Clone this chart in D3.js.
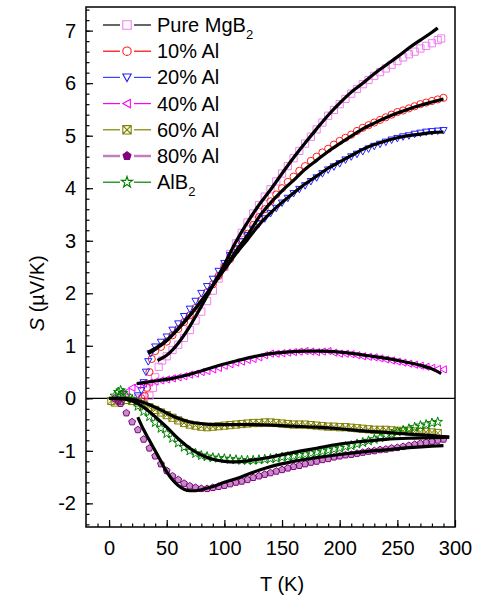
<!DOCTYPE html>
<html>
<head>
<meta charset="utf-8">
<script src="https://cdn.jsdelivr.net/npm/d3@7"></script>
<style>
  body { margin: 0; background: #fff; }
  text { font-family: "Liberation Sans", Arial, sans-serif; }
</style>
</head>
<body>
<svg id="chart" width="482" height="599"></svg>
<script>
const pureData = [[25,0],[30,0.02],[35,0.05],[38,0.2],[40,0.4],[43,0.6],[46,0.72],[50,0.8],[55,0.92],[60,1.02],[65,1.15],[70,1.3],[75,1.48],[80,1.65],[85,1.85],[90,2.05],[95,2.28],[100,2.5],[105,2.75],[110,2.95],[115,3.15],[120,3.35],[125,3.52],[130,3.68],[135,3.84],[140,3.98],[145,4.13],[150,4.28],[155,4.42],[160,4.57],[165,4.71],[170,4.85],[175,4.98],[180,5.12],[185,5.25],[190,5.38],[195,5.49],[200,5.6],[205,5.7],[210,5.8],[215,5.89],[220,5.98],[225,6.06],[230,6.14],[235,6.21],[240,6.28],[245,6.35],[250,6.42],[255,6.49],[260,6.55],[265,6.6],[270,6.66],[275,6.71],[280,6.76],[285,6.82],[288,6.85]];
const al10Data = [[28,0],[31,0.05],[33,0.2],[35,0.5],[37,0.75],[40,0.9],[45,0.98],[50,1.08],[55,1.2],[60,1.32],[65,1.45],[70,1.58],[75,1.72],[80,1.87],[85,2.02],[90,2.17],[95,2.33],[100,2.5],[105,2.65],[110,2.82],[115,2.98],[120,3.13],[125,3.3],[130,3.45],[135,3.6],[140,3.75],[145,3.88],[150,4.0],[155,4.12],[160,4.22],[165,4.33],[170,4.42],[175,4.52],[180,4.6],[185,4.68],[190,4.75],[195,4.83],[200,4.9],[205,4.96],[210,5.02],[215,5.09],[220,5.15],[225,5.2],[230,5.25],[235,5.3],[240,5.35],[245,5.4],[250,5.45],[255,5.48],[260,5.52],[265,5.56],[270,5.6],[275,5.63],[280,5.66],[285,5.69],[290,5.72]];
const al20Data = [[25,0.05],[28,0.15],[30,0.3],[32,0.5],[34,0.7],[36,0.85],[40,0.98],[45,1.07],[50,1.17],[55,1.3],[60,1.42],[65,1.56],[70,1.7],[75,1.85],[80,2.0],[85,2.13],[90,2.27],[95,2.42],[100,2.57],[105,2.72],[110,2.85],[115,2.98],[120,3.1],[125,3.21],[130,3.32],[135,3.42],[140,3.52],[145,3.62],[150,3.72],[155,3.81],[160,3.9],[165,3.98],[170,4.05],[175,4.13],[180,4.2],[185,4.28],[190,4.35],[195,4.41],[200,4.47],[205,4.54],[210,4.6],[215,4.65],[220,4.7],[225,4.75],[230,4.8],[235,4.84],[240,4.88],[245,4.92],[250,4.95],[255,4.98],[260,5.0],[265,5.03],[270,5.05],[275,5.07],[280,5.08],[285,5.09],[290,5.1]];
const al40Data = [[10,0.05],[15,0.12],[20,0.2],[25,0.25],[30,0.28],[35,0.3],[40,0.32],[45,0.34],[50,0.36],[55,0.38],[60,0.4],[65,0.42],[70,0.45],[75,0.47],[80,0.5],[85,0.52],[90,0.55],[95,0.58],[100,0.62],[105,0.65],[110,0.68],[115,0.7],[120,0.73],[125,0.75],[130,0.78],[135,0.82],[140,0.85],[145,0.85],[150,0.86],[155,0.87],[160,0.88],[165,0.89],[170,0.9],[175,0.89],[180,0.88],[185,0.89],[190,0.9],[195,0.87],[200,0.85],[205,0.85],[210,0.84],[215,0.82],[220,0.8],[225,0.79],[230,0.78],[235,0.76],[240,0.74],[245,0.72],[250,0.7],[255,0.68],[260,0.66],[265,0.64],[270,0.62],[275,0.6],[280,0.58],[285,0.56],[290,0.55]];
const al60Data = [[2,-0.05],[5,-0.08],[10,-0.05],[15,-0.03],[20,-0.05],[25,-0.08],[30,-0.12],[35,-0.17],[40,-0.22],[45,-0.27],[50,-0.32],[55,-0.37],[60,-0.42],[65,-0.47],[70,-0.5],[75,-0.52],[80,-0.54],[85,-0.55],[90,-0.54],[95,-0.53],[100,-0.52],[105,-0.51],[110,-0.5],[115,-0.49],[120,-0.48],[125,-0.47],[130,-0.47],[135,-0.46],[140,-0.46],[145,-0.47],[150,-0.48],[155,-0.49],[160,-0.5],[165,-0.5],[170,-0.5],[175,-0.51],[180,-0.52],[185,-0.53],[190,-0.54],[195,-0.54],[200,-0.55],[205,-0.55],[210,-0.56],[215,-0.57],[220,-0.58],[225,-0.59],[230,-0.6],[235,-0.6],[240,-0.6],[245,-0.61],[250,-0.62],[255,-0.62],[260,-0.63],[265,-0.63],[270,-0.64],[275,-0.64],[280,-0.65],[285,-0.66]];
const al80Data = [[5,0],[8,-0.05],[10,-0.1],[15,-0.28],[20,-0.45],[25,-0.6],[30,-0.78],[35,-0.95],[40,-1.1],[45,-1.25],[50,-1.38],[55,-1.48],[60,-1.55],[65,-1.62],[70,-1.67],[75,-1.7],[80,-1.72],[85,-1.72],[90,-1.7],[95,-1.68],[100,-1.66],[105,-1.63],[110,-1.6],[115,-1.58],[120,-1.55],[125,-1.51],[130,-1.48],[135,-1.45],[140,-1.42],[145,-1.39],[150,-1.36],[155,-1.33],[160,-1.3],[165,-1.28],[170,-1.25],[175,-1.22],[180,-1.2],[185,-1.17],[190,-1.15],[195,-1.12],[200,-1.1],[205,-1.08],[210,-1.07],[215,-1.05],[220,-1.03],[225,-1.01],[230,-1.0],[235,-0.98],[240,-0.97],[245,-0.95],[250,-0.94],[255,-0.92],[260,-0.9],[265,-0.88],[270,-0.86],[275,-0.84],[280,-0.82],[285,-0.8],[290,-0.78]];
const alb2Data = [[5,0.05],[8,0.12],[10,0.15],[12,0.1],[15,0.05],[20,-0.02],[25,-0.15],[30,-0.25],[35,-0.35],[40,-0.46],[45,-0.57],[50,-0.67],[55,-0.76],[60,-0.85],[65,-0.93],[70,-1.0],[75,-1.05],[80,-1.09],[85,-1.11],[90,-1.13],[95,-1.14],[100,-1.15],[105,-1.16],[110,-1.17],[115,-1.18],[120,-1.18],[125,-1.18],[130,-1.17],[135,-1.16],[140,-1.15],[145,-1.14],[150,-1.12],[155,-1.11],[160,-1.1],[165,-1.08],[170,-1.07],[175,-1.05],[180,-1.03],[185,-1.01],[190,-0.99],[195,-0.97],[200,-0.95],[205,-0.92],[210,-0.9],[215,-0.87],[220,-0.84],[225,-0.81],[230,-0.78],[235,-0.75],[240,-0.71],[245,-0.68],[250,-0.64],[255,-0.61],[260,-0.58],[265,-0.55],[270,-0.52],[275,-0.5],[280,-0.47],[285,-0.45]];

// fitted curves (black lines)
const pureFit = [[42,0.72],[50,0.82],[60,1.05],[70,1.37],[80,1.75],[90,2.15],[100,2.55],[110,2.98],[120,3.35],[130,3.68],[140,3.97],[150,4.28],[160,4.58],[170,4.86],[180,5.13],[190,5.39],[200,5.62],[210,5.83],[220,6.0],[230,6.18],[240,6.34],[250,6.5],[260,6.67],[270,6.82],[280,6.97],[285,7.05]];
const al10Fit = [[34,0.88],[40,0.95],[50,1.1],[60,1.32],[70,1.57],[80,1.85],[90,2.15],[100,2.47],[110,2.8],[120,3.1],[130,3.45],[140,3.72],[150,3.95],[160,4.15],[170,4.36],[180,4.53],[190,4.7],[200,4.85],[210,4.99],[220,5.13],[230,5.24],[240,5.34],[250,5.43],[260,5.51],[270,5.58],[280,5.64],[290,5.7]];
const al20Fit = [[34,0.85],[40,0.93],[50,1.1],[60,1.33],[70,1.58],[80,1.86],[90,2.15],[100,2.45],[110,2.75],[120,3.02],[130,3.3],[140,3.53],[150,3.73],[160,3.91],[170,4.08],[180,4.23],[190,4.38],[200,4.5],[210,4.62],[220,4.74],[230,4.83],[240,4.9],[250,4.96],[260,5.0],[270,5.03],[280,5.06],[290,5.07]];
const al40Fit = [[24,0.28],[40,0.33],[55,0.38],[67,0.44],[80,0.52],[96,0.63],[110,0.71],[125,0.79],[140,0.85],[154,0.88],[170,0.9],[183,0.9],[200,0.88],[212,0.85],[225,0.81],[241,0.76],[255,0.7],[270,0.63],[280,0.56],[288,0.47]];
const al60Fit = [[0,0],[10,0],[20,-0.02],[30,-0.08],[40,-0.17],[50,-0.28],[60,-0.38],[70,-0.45],[80,-0.48],[90,-0.5],[100,-0.5],[120,-0.5],[140,-0.51],[160,-0.53],[180,-0.55],[200,-0.58],[220,-0.62],[240,-0.65],[260,-0.68],[280,-0.71],[295,-0.74]];
const al80Fit = [[25,-0.36],[30,-0.6],[35,-0.8],[40,-1.0],[45,-1.2],[50,-1.4],[55,-1.55],[60,-1.66],[65,-1.73],[70,-1.76],[75,-1.76],[80,-1.74],[90,-1.68],[100,-1.6],[110,-1.53],[120,-1.45],[130,-1.37],[140,-1.3],[160,-1.2],[180,-1.13],[200,-1.07],[220,-1.02],[240,-0.98],[260,-0.94],[280,-0.91],[290,-0.9]];
const alb2Fit = [[5,0],[15,-0.02],[20,-0.05],[30,-0.17],[40,-0.35],[50,-0.55],[60,-0.77],[70,-0.95],[80,-1.08],[90,-1.16],[100,-1.2],[110,-1.21],[120,-1.19],[130,-1.16],[140,-1.12],[160,-1.03],[180,-0.95],[200,-0.87],[220,-0.82],[240,-0.78],[260,-0.76],[280,-0.75],[295,-0.74]];

const seriesNames = ["Pure MgB", "10% Al", "20% Al", "40% Al", "60% Al", "80% Al", "AlB"];
const seriesSub = ["2", "", "", "", "", "", "2"];
const xTicks = [0, 50, 100, 150, 200, 250, 300];
const yTicks = [-2, -1, 0, 1, 2, 3, 4, 5, 6, 7];

const series = [
  {data: pureData, fit: pureFit, color: "#f080f0", line: "#000", shape: "square"},
  {data: al10Data, fit: al10Fit, color: "#ff2020", line: "#ff0000", shape: "circle"},
  {data: al20Data, fit: al20Fit, color: "#2020ff", line: "#4040ff", shape: "tridown"},
  {data: al40Data, fit: al40Fit, color: "#ff00ff", line: "#ff00ff", shape: "trileft"},
  {data: al60Data, fit: al60Fit, color: "#808000", line: "#808000", shape: "xsquare"},
  {data: al80Data, fit: al80Fit, color: "#800080", line: "#c080c0", shape: "pentagon"},
  {data: alb2Data, fit: alb2Fit, color: "#008000", line: "#008000", shape: "star"}
];

const svg = d3.select("#chart");
const x = d3.scaleLinear().domain([-20, 300]).range([86, 455]);
const y = d3.scaleLinear().domain([-2.45, 7.45]).range([527, 7]);

function markerPath(shape, r) {
  if (shape === "square") return `M${-r},${-r}h${2*r}v${2*r}h${-2*r}Z`;
  if (shape === "circle") return `M${r},0A${r},${r} 0 1,1 ${-r},0A${r},${r} 0 1,1 ${r},0Z`;
  if (shape === "tridown") return `M${-r},${-r*0.8}L${r},${-r*0.8}L0,${r}Z`;
  if (shape === "trileft") return `M${-r},0L${r*0.8},${-r}L${r*0.8},${r}Z`;
  if (shape === "xsquare") return `M${-r},${-r}h${2*r}v${2*r}h${-2*r}ZM${-r},${-r}L${r},${r}M${r},${-r}L${-r},${r}`;
  if (shape === "pentagon") {
    let p = d3.range(5).map(i => {
      const a = -Math.PI / 2 + i * 2 * Math.PI / 5;
      return [r * Math.cos(a), r * Math.sin(a)];
    });
    return "M" + p.join("L") + "Z";
  }
  if (shape === "star") return d3.symbol(d3.symbolStar, r * r * 2.2)();
}

// zero line
svg.append("line")
  .attr("x1", x(-20)).attr("x2", x(300))
  .attr("y1", y(0)).attr("y2", y(0))
  .attr("stroke", "#000").attr("stroke-width", 1.2);

// data markers
series.forEach(s => {
  svg.append("g")
    .selectAll("path")
    .data(s.data)
    .join("path")
      .attr("transform", d => `translate(${x(d[0])},${y(d[1])})`)
      .attr("d", markerPath(s.shape, 3.6))
      .attr("fill", s.shape === "pentagon" ? s.color : "none")
      .attr("fill-opacity", 0.45)
      .attr("stroke", s.color)
      .attr("stroke-width", 1);
});

// fit lines
const line = d3.line().x(d => x(d[0])).y(d => y(d[1])).curve(d3.curveMonotoneX);
series.forEach(s => {
  svg.append("path")
    .attr("d", line(s.fit))
    .attr("fill", "none")
    .attr("stroke", "#000")
    .attr("stroke-width", 3.2);
});

// axes, ticks inside
const fmt = d => String(d);
svg.append("g")
  .attr("transform", `translate(${x(-20)},0)`)
  .call(d3.axisLeft(y).tickValues(d3.range(-24, 75, 2).map(v => v / 10)).tickSize(-3.5).tickFormat(""))
  .call(g => g.select(".domain").remove());
svg.append("g")
  .attr("transform", `translate(${x(-20)},0)`)
  .call(d3.axisLeft(y).tickValues(yTicks).tickSize(-7).tickPadding(10).tickFormat(fmt))
  .call(g => g.select(".domain").remove())
  .call(g => g.selectAll("text").attr("font-size", 20).attr("fill", "#000").attr("font-family", "Liberation Sans, Arial, sans-serif"));

svg.append("g")
  .attr("transform", `translate(0,${y(-2.45)})`)
  .call(d3.axisBottom(x).tickValues(d3.range(-10, 300, 10)).tickSize(-3.5).tickFormat(""))
  .call(g => g.select(".domain").remove());
svg.append("g")
  .attr("transform", `translate(0,${y(-2.45)})`)
  .call(d3.axisBottom(x).tickValues(xTicks).tickSize(-7).tickPadding(14).tickFormat(fmt))
  .call(g => g.select(".domain").remove())
  .call(g => g.selectAll("text").attr("font-size", 20).attr("fill", "#000").attr("font-family", "Liberation Sans, Arial, sans-serif"));

svg.selectAll(".tick line").attr("stroke", "#000").attr("stroke-width", 1.2);

// frame
svg.append("rect")
  .attr("x", x(-20)).attr("y", y(7.45))
  .attr("width", x(300) - x(-20)).attr("height", y(-2.45) - y(7.45))
  .attr("fill", "none").attr("stroke", "#000").attr("stroke-width", 1.5);

// axis titles
svg.append("text")
  .attr("x", x(150)).attr("y", 591)
  .attr("text-anchor", "middle").attr("font-size", 20)
  .text("T (K)");
const yl = svg.append("text")
  .attr("transform", `translate(44,${y(2.0)}) rotate(-90)`)
  .attr("text-anchor", "middle").attr("font-size", 20);
yl.append("tspan").attr("font-style", "italic").text("S");
yl.append("tspan").text(" (\u00b5V/K)");

// legend
const leg = svg.append("g");
series.forEach((s, i) => {
  const cy = 25 + i * 26.2;
  const g = leg.append("g").attr("transform", `translate(0,${cy})`);
  g.append("line").attr("x1", 103).attr("x2", 120).attr("y1", 0).attr("y2", 0)
    .attr("stroke", s.line).attr("stroke-width", i === 5 ? 2.5 : 1.2);
  g.append("line").attr("x1", 134).attr("x2", 151).attr("y1", 0).attr("y2", 0)
    .attr("stroke", s.line).attr("stroke-width", i === 5 ? 2.5 : 1.2);
  g.append("path")
    .attr("transform", "translate(127,0)")
    .attr("d", markerPath(s.shape, 4.2))
    .attr("fill", s.shape === "pentagon" ? s.color : "none")
    .attr("stroke", s.color).attr("stroke-width", 1.1);
  const t = g.append("text").attr("x", 157).attr("y", 7).attr("font-size", 20).text(seriesNames[i]);
  if (seriesSub[i]) t.append("tspan").attr("dy", 7).attr("font-size", 13).text(seriesSub[i]);
});
</script>
</body>
</html>
